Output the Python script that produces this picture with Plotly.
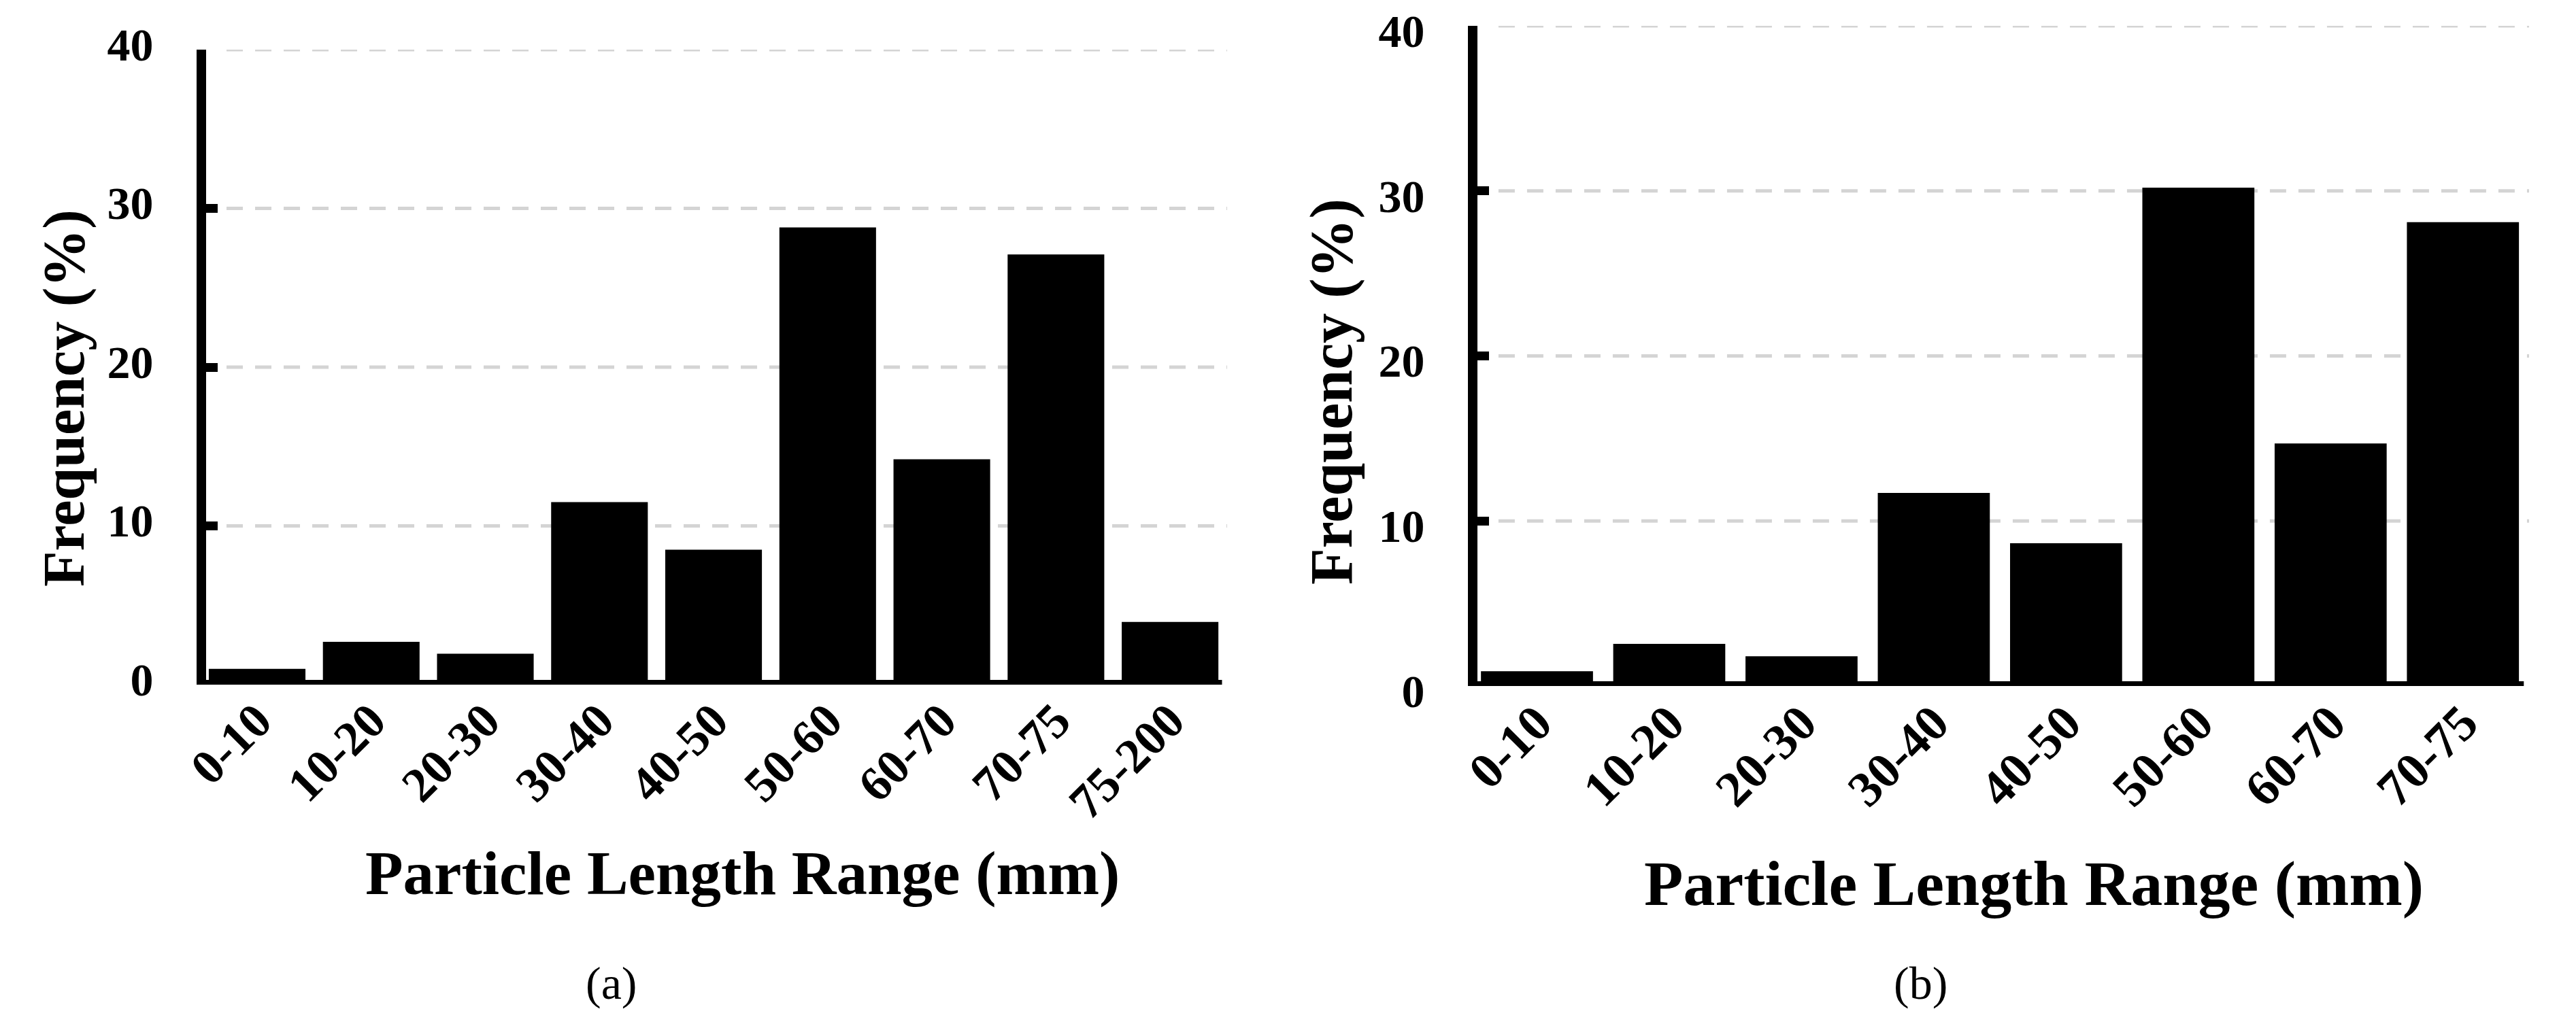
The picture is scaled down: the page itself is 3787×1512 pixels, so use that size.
import plotly.graph_objects as go

# ---------------- data ----------------
categories_a = ["0-10", "10-20", "20-30", "30-40", "40-50", "50-60", "60-70", "70-75", "75-200"]
freq_a = [1.0, 2.7, 1.95, 11.5, 8.5, 28.8, 14.2, 27.1, 3.95]

categories_b = ["0-10", "10-20", "20-30", "30-40", "40-50", "50-60", "60-70", "70-75"]
freq_b = [0.9, 2.55, 1.8, 11.7, 8.65, 30.2, 14.7, 28.1]

y_ticks = [0, 10, 20, 30, 40]
grid_vals = [10, 20, 30, 40]
y_title = "Frequency (%)"
x_title = "Particle Length Range (mm)"
captions = ["(a)", "(b)"]

# ---------------- layout helpers ----------------
W, H = 3787, 1512
FONT = "Liberation Serif, Times New Roman, serif"


def fx(px):
    return px / W


def fy(px):
    return 1 - px / H


fig = go.Figure()
fig.add_trace(go.Bar(x=categories_a, y=freq_a, marker=dict(color="black", line=dict(width=0)),
                     xaxis="x", yaxis="y", showlegend=False))
fig.add_trace(go.Bar(x=categories_b, y=freq_b, marker=dict(color="black", line=dict(width=0)),
                     xaxis="x2", yaxis="y2", showlegend=False))


def xaxis_cfg(domain, rng, size):
    return dict(domain=domain, type="category", range=rng, showline=False,
                ticks="", tickangle=-45, showgrid=False, zeroline=False, automargin=False,
                tickfont=dict(family=FONT, size=size, color="black", weight="bold"),
                ticklabelstandoff=-5, ticklabelshift=0, ticklabeloverflow="allow")


def yaxis_cfg(domain, anchor, size, shift):
    return dict(domain=domain, anchor=anchor, range=[0, 40], tickvals=y_ticks,
                showline=True, linewidth=14, linecolor="black",
                ticks="inside", ticklen=17, tickwidth=13, tickcolor="black",
                showgrid=False, zeroline=False, ticklabelstandoff=50, automargin=False,
                ticklabelshift=shift, ticklabeloverflow="allow",
                tickfont=dict(family=FONT, size=size, color="black", weight="bold"))


fig.update_layout(
    template="none",
    width=W, height=H,
    margin=dict(l=0, r=0, t=0, b=0, pad=0),
    paper_bgcolor="white", plot_bgcolor="white",
    bargap=0.153,
    xaxis=dict(anchor="y", **xaxis_cfg([fx(295), fx(1796)], [-0.447, 8.5], 72)),
    yaxis=yaxis_cfg([fy(999), fy(65)], "x", 68, -8),
    xaxis2=dict(anchor="y2", **xaxis_cfg([fx(2164), fx(3710)], [-0.45, 7.5], 74)),
    yaxis2=yaxis_cfg([fy(1001), fy(30)], "x2", 68, 7),
)

# dashed horizontal grid lines
for xr, yr in (("x domain", "y"), ("x2 domain", "y2")):
    for g in grid_vals:
        fig.add_shape(type="line", xref=xr, yref=yr, x0=0.02, x1=1, y0=g, y1=g,
                      line=dict(color="#d4d4d4", width=5, dash="24px,18px"), layer="below")

# x-axis baselines (thick black lines at y = 0)
for xr, yr in (("x domain", "y"), ("x2 domain", "y2")):
    fig.add_shape(type="line", xref=xr, yref=yr, x0=-0.005, x1=0.995, y0=0, y1=0,
                  line=dict(color="black", width=14), layer="above")

ann = []
# y titles
ann.append(dict(text=y_title, x=fx(86), y=fy(578), textangle=-90,
                font=dict(family=FONT, size=86, color="black", weight="bold")))
ann.append(dict(text=y_title, x=fx(1950), y=fy(568), textangle=-90,
                font=dict(family=FONT, size=88, color="black", weight="bold")))
# x titles
ann.append(dict(text=x_title, x=fx(1083), y=fy(1276),
                font=dict(family=FONT, size=91, color="black", weight="bold")))
ann.append(dict(text=x_title, x=fx(2982), y=fy(1291),
                font=dict(family=FONT, size=94, color="black", weight="bold")))
# captions
ann.append(dict(text=captions[0], x=fx(890), y=fy(1438),
                font=dict(family=FONT, size=68, color="black")))
ann.append(dict(text=captions[1], x=fx(2815), y=fy(1438),
                font=dict(family=FONT, size=68, color="black")))

for a in ann:
    a.update(xref="paper", yref="paper", xanchor="center", yanchor="middle", showarrow=False)
fig.update_layout(annotations=ann)

fig.write_html("out.html")
